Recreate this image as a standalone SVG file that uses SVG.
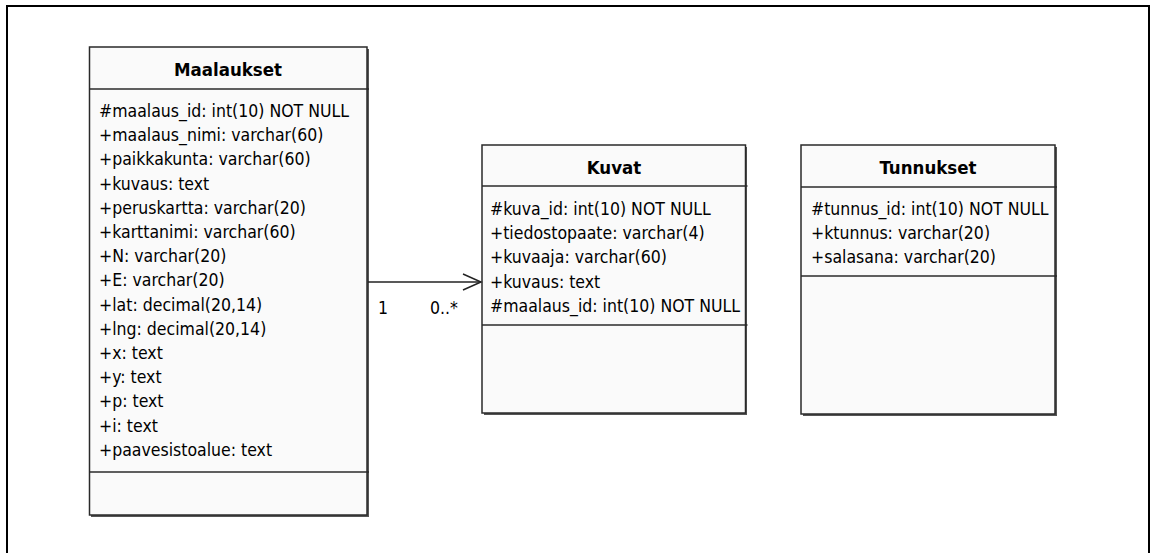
<svg xmlns="http://www.w3.org/2000/svg" width="1150" height="553" viewBox="0 0 1150 553">
<style>
.frame{fill:#fff;stroke:#000;stroke-width:2}
.box{fill:#fafafa;stroke:#2a2a2a;stroke-width:1.5}
.shadow{fill:#555}
.sep{stroke:#2a2a2a;stroke-width:1.5}
.t{font-family:"DejaVu Sans Condensed","DejaVu Sans",sans-serif;font-size:17.5px;fill:#000}
.h{font-family:"DejaVu Sans Condensed","DejaVu Sans",sans-serif;font-size:18.5px;font-weight:bold;fill:#000;text-anchor:middle}
.conn{stroke:#222;stroke-width:1.5;fill:none}
</style>
<rect class="frame" x="7" y="6" width="1142" height="560"/>
<g id="Maalaukset">
<rect class="shadow" x="91" y="49" width="278" height="468"/>
<rect class="box" x="89.5" y="47" width="277.5" height="468"/>
<line class="sep" x1="89.5" y1="89" x2="369" y2="89"/>
<line class="sep" x1="89.5" y1="472" x2="369" y2="472"/>
<text class="h" x="228" y="76">Maalaukset</text>
<text class="t" x="99" y="117">#maalaus_id: int(10) NOT NULL</text>
<text class="t" x="99" y="141.2">+maalaus_nimi: varchar(60)</text>
<text class="t" x="99" y="165.4">+paikkakunta: varchar(60)</text>
<text class="t" x="99" y="189.6">+kuvaus: text</text>
<text class="t" x="99" y="213.8">+peruskartta: varchar(20)</text>
<text class="t" x="99" y="238">+karttanimi: varchar(60)</text>
<text class="t" x="99" y="262.2">+N: varchar(20)</text>
<text class="t" x="99" y="286.4">+E: varchar(20)</text>
<text class="t" x="99" y="310.6">+lat: decimal(20,14)</text>
<text class="t" x="99" y="334.8">+lng: decimal(20,14)</text>
<text class="t" x="99" y="359">+x: text</text>
<text class="t" x="99" y="383.2">+y: text</text>
<text class="t" x="99" y="407.4">+p: text</text>
<text class="t" x="99" y="431.6">+i: text</text>
<text class="t" x="99" y="455.8">+paavesistoalue: text</text>
</g>
<g id="Kuvat">
<rect class="shadow" x="484" y="147" width="263" height="268"/>
<rect class="box" x="482" y="145" width="263.5" height="268"/>
<line class="sep" x1="482" y1="186" x2="747.5" y2="186"/>
<line class="sep" x1="482" y1="325" x2="747.5" y2="325"/>
<text class="h" x="614" y="174">Kuvat</text>
<text class="t" x="490" y="215">#kuva_id: int(10) NOT NULL</text>
<text class="t" x="490" y="239.2">+tiedostopaate: varchar(4)</text>
<text class="t" x="490" y="263.4">+kuvaaja: varchar(60)</text>
<text class="t" x="490" y="287.6">+kuvaus: text</text>
<text class="t" x="490" y="311.8">#maalaus_id: int(10) NOT NULL</text>
</g>
<g id="Tunnukset">
<rect class="shadow" x="803" y="147" width="254" height="269"/>
<rect class="box" x="801" y="145" width="254" height="269"/>
<line class="sep" x1="801" y1="187" x2="1057" y2="187"/>
<line class="sep" x1="801" y1="276" x2="1057" y2="276"/>
<text class="h" x="928" y="174">Tunnukset</text>
<text class="t" x="811" y="215">#tunnus_id: int(10) NOT NULL</text>
<text class="t" x="811" y="239.2">+ktunnus: varchar(20)</text>
<text class="t" x="811" y="263.4">+salasana: varchar(20)</text>
</g>
<g id="connectors">
<line class="conn" x1="368" y1="282" x2="481" y2="282"/>
<polyline class="conn" points="463,274 481,282 463,290"/>
<text class="t" x="378" y="314">1</text>
<text class="t" x="430" y="314">0..*</text>
</g>
</svg>
